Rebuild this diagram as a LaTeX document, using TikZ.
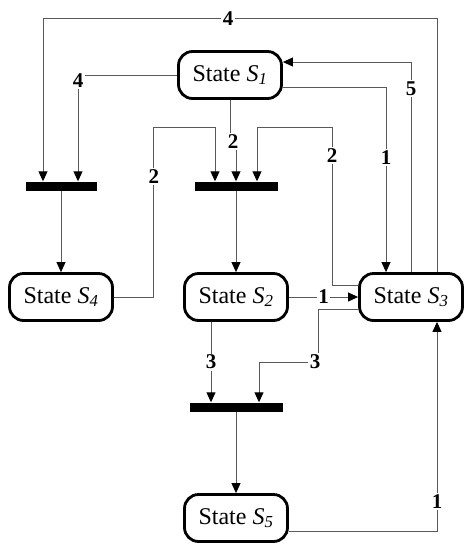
\documentclass[tikz,border=0pt]{standalone}
\usepackage{fontspec}
\setmainfont{Liberation Serif}
\usetikzlibrary{arrows.meta,positioning}

\begin{document}
\begin{tikzpicture}[
  x=1pt, y=-1pt,
  state/.style={draw, line width=2.8pt, rounded corners=14pt, minimum width=103pt,
                minimum height=47pt, inner sep=0pt, font=\fontsize{24}{26}\selectfont},
  bar/.style={fill=black, inner sep=0pt, minimum height=9pt},
  arr/.style={draw=black!65, line width=0.9pt, -{Triangle[length=10pt,width=9pt,color=black]}},
  lbl/.style={fill=white, inner sep=1.5pt, font=\bfseries\fontsize{21}{21}\selectfont}
]
\useasboundingbox (0,0) rectangle (471,550);

% states
\node[state] (s1) at (230,75)  {State \textit{S\textsubscript{1}}};
\node[state] (s4) at (61,297)  {State \textit{S\textsubscript{4}}};
\node[state] (s2) at (236,297) {State \textit{S\textsubscript{2}}};
\node[state] (s3) at (411,297) {State \textit{S\textsubscript{3}}};
\node[state] (s5) at (236,518) {State \textit{S\textsubscript{5}}};

% synchronisation bars
\node[bar, minimum width=71pt] (bar1) at (61,186)  {};
\node[bar, minimum width=83pt] (bar2) at (236,186) {};
\node[bar, minimum width=93pt] (bar3) at (236,407) {};

% into the left bar
\draw[arr] ([xshift=26pt]s3.north) -- ++(0,-254) -| node[lbl,pos=0.265]{4} ([xshift=-18pt]bar1.north);
\draw[arr] (s1.west) -| node[lbl,pos=0.5,yshift=-6pt]{4} ([xshift=17pt]bar1.north);

% into the middle bar
\draw[arr] (s1.south) -- ++(0,42) node[lbl,xshift=3pt]{2} -| (bar2.north);
\draw[arr] (s4.east) -- ++(40,0) -- node[lbl,pos=0.71]{2} ++(0,-170) -| ([xshift=-21pt]bar2.north);
\draw[arr] ([yshift=12pt]s3.west) -- ++(-26,0) -- node[lbl,pos=0.82]{2} ++(0,-158) -| ([xshift=21pt]bar2.north);

% between S1 and S3
\draw[arr] ([yshift=-12pt]s1.east) -| node[lbl,pos=0.69]{1} ([xshift=-25pt]s3.north);
\draw[arr] (s3.north) |- node[lbl,pos=0.436]{5} ([yshift=13pt]s1.east);

% bars to states
\draw[arr] (bar1.south) -- (s4.north);
\draw[arr] (bar2.south) -- (s2.north);
\draw[arr] (bar3.south) -- (s5.north);

% S2 to S3
\draw[arr] (s2.east) -- node[lbl]{1} (s3.west);

% into the lower bar
\draw[arr] ([yshift=-12pt]s3.west) -- ++(-40,0) -- ++(0,53) node[lbl,xshift=-3pt]{3} -| ([xshift=23pt]bar3.north);
\draw[arr] ([xshift=-25pt]s2.south) -- node[lbl]{3} ([xshift=-25pt]s2.south |- bar3.north);

% S5 back to S3
\draw[arr] ([yshift=-13pt]s5.east) -| node[lbl,pos=0.57]{1} ([xshift=26pt]s3.south);
\end{tikzpicture}
\end{document}
